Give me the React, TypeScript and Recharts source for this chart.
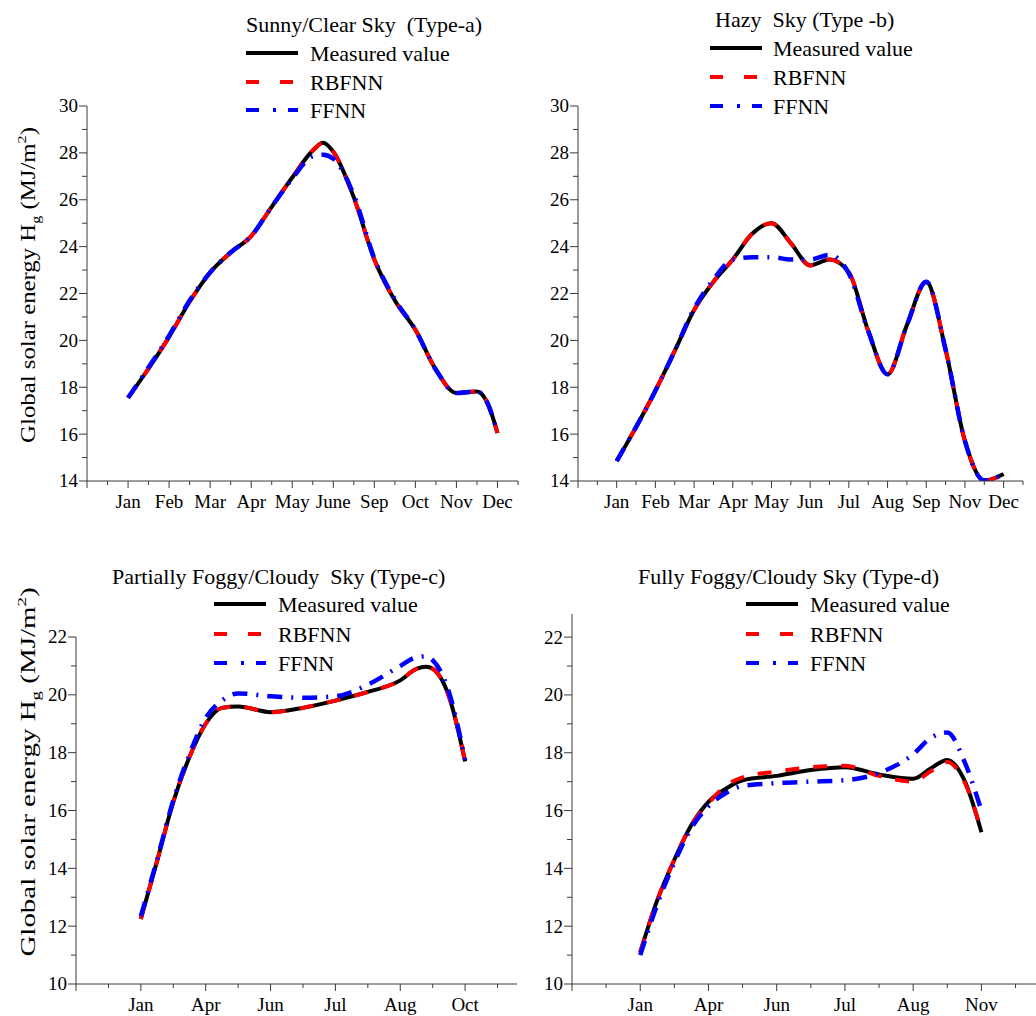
import { Line, LineChart, XAxis, YAxis } from "recharts";

const FONT = '"Liberation Serif", "Times New Roman", serif';
const AXIS = "#3a3a3a";

// Type-a: sunny / clear sky
const monthsA = ["Jan", "Feb", "Mar", "Apr", "May", "June", "Sep", "Oct", "Nov", "Dec"];
const xA = [1, 1.5, 2, 2.5, 3, 3.5, 4, 4.5, 5, 5.5, 5.75, 6, 6.5, 7, 7.5, 8, 8.5, 9, 9.5, 9.75, 10];
const measuredA = [17.55, 18.8, 20.15, 21.65, 22.9, 23.75, 24.45, 25.7, 26.95, 28.1, 28.43, 28.05, 26.1, 23.45, 21.7, 20.45, 18.75, 17.75, 17.82, 17.35, 16.05];
const rbfnnA = [17.55, 18.8, 20.15, 21.65, 22.9, 23.75, 24.45, 25.7, 26.95, 28.1, 28.43, 28.05, 26.1, 23.45, 21.7, 20.45, 18.75, 17.75, 17.82, 17.35, 16.05];
const ffnnA = [17.55, 18.85, 20.2, 21.7, 22.9, 23.75, 24.45, 25.7, 26.9, 27.85, 27.92, 27.75, 26.2, 23.5, 21.75, 20.45, 18.75, 17.75, 17.82, 17.35, 16.05];

// Type-b: hazy sky
const monthsB = ["Jan", "Feb", "Mar", "Apr", "May", "Jun", "Jul", "Aug", "Sep", "Nov", "Dec"];
const xB = [1, 1.5, 2, 2.5, 3, 3.5, 4, 4.5, 5, 5.5, 6, 6.5, 7, 7.5, 8, 8.5, 9, 9.5, 10, 10.5, 11];
const measuredB = [14.85, 16.3, 17.85, 19.55, 21.3, 22.5, 23.45, 24.55, 25.0, 24.15, 23.2, 23.45, 22.9, 20.4, 18.55, 20.65, 22.5, 19.6, 15.7, 14.02, 14.3];
const rbfnnB = [14.85, 16.3, 17.85, 19.55, 21.3, 22.5, 23.45, 24.55, 25.0, 24.15, 23.2, 23.45, 22.9, 20.4, 18.55, 20.65, 22.5, 19.6, 15.7, 14.02, 14.3];
const ffnnB = [14.85, 16.3, 17.85, 19.55, 21.35, 22.6, 23.45, 23.55, 23.55, 23.45, 23.45, 23.65, 22.85, 20.4, 18.55, 20.65, 22.5, 19.6, 15.7, 14.02, 14.3];

// Type-c: partially foggy / cloudy sky
const monthsC = ["Jan", "Apr", "Jun", "Jul", "Aug", "Oct"];
const xC = [1, 1.25, 1.5, 1.75, 2, 2.25, 2.5, 3, 3.5, 4, 4.5, 5, 5.25, 5.4, 5.5, 5.75, 6];
const measuredC = [12.25, 14.25, 16.3, 17.85, 19.0, 19.55, 19.6, 19.4, 19.55, 19.8, 20.1, 20.5, 20.9, 20.97, 20.9, 19.95, 17.7];
const rbfnnC = [12.25, 14.25, 16.3, 17.85, 19.0, 19.55, 19.6, 19.4, 19.55, 19.8, 20.1, 20.5, 20.9, 20.97, 20.9, 19.95, 17.7];
const ffnnC = [12.35, 14.3, 16.35, 17.95, 19.2, 19.8, 20.05, 19.95, 19.9, 19.95, 20.35, 21.0, 21.3, 21.33, 21.2, 20.1, 17.75];

// Type-d: fully foggy / cloudy sky
const monthsD = ["Jan", "Apr", "Jun", "Jul", "Aug", "Nov"];
const xD = [1, 1.25, 1.5, 1.75, 2, 2.25, 2.5, 3, 3.5, 4, 4.5, 5, 5.25, 5.5, 5.75, 6];
const measuredD = [11.1, 12.9, 14.3, 15.5, 16.3, 16.75, 17.05, 17.2, 17.4, 17.5, 17.25, 17.1, 17.45, 17.75, 17.05, 15.25];
const rbfnnD = [11.1, 12.9, 14.3, 15.5, 16.25, 16.85, 17.15, 17.35, 17.5, 17.55, 17.2, 17.0, 17.35, 17.68, 17.0, 15.3];
const ffnnD = [11.0, 12.75, 14.2, 15.4, 16.15, 16.6, 16.85, 16.95, 17.0, 17.05, 17.3, 17.95, 18.5, 18.7, 17.7, 16.0];

const toRows = (xs: number[], m: number[], r: number[], f: number[]) =>
  xs.map((x, i) => ({ x, measured: m[i], rbfnn: r[i], ffnn: f[i] }));

const halfSteps = (max: number) => {
  const out: number[] = [];
  for (let v = 0; v <= max + 1e-9; v += 0.5) out.push(v);
  return out;
};
const unitSteps = (min: number, max: number) => {
  const out: number[] = [];
  for (let v = min; v <= max; v += 1) out.push(v);
  return out;
};

const makeXTick = (labels: string[]) => (props: any) => {
  const { x, y, payload } = props;
  const v = payload.value as number;
  const major = Number.isInteger(v);
  const label = major && v >= 1 ? labels[v - 1] : undefined;
  return (
    <g>
      <line x1={x} x2={x} y1={y} y2={y + (major ? 7 : 4)} stroke={AXIS} />
      {label && (
        <text x={x} y={y + 27} textAnchor="middle" fontSize={19} fontFamily={FONT} fill="#000">
          {label}
        </text>
      )}
    </g>
  );
};

const YTick = (props: any) => {
  const { x, y, payload } = props;
  const major = payload.value % 2 === 0;
  return (
    <g>
      <line x1={x} x2={x - (major ? 8 : 5)} y1={y} y2={y} stroke={AXIS} />
      {major && (
        <text x={x - 9} y={y} dy="0.34em" textAnchor="end" fontSize={19} fontFamily={FONT} fill="#000">
          {payload.value}
        </text>
      )}
    </g>
  );
};

const YTitle = ({ cx, cy, stretch }: { cx: number; cy: number; stretch: number }) => (
  <text
    transform={`translate(${cx},${cy}) rotate(-90) scale(${stretch},1)`}
    textAnchor="middle"
    fontFamily={FONT}
    fontSize={20}
    fill="#000"
  >
    Global solar energy H
    <tspan fontSize={13} dy={5}>g</tspan>
    <tspan dy={-5}> (MJ/m</tspan>
    <tspan fontSize={13} dy={-9}>2</tspan>
    <tspan dy={9}>)</tspan>
  </text>
);

interface PanelProps {
  left: number;
  top: number;
  width: number;
  height: number;
  margin: { top: number; right: number; bottom: number; left: number };
  yWidth: number;
  xHeight: number;
  xMax: number;
  yDomain: [number, number];
  yTicks: number[];
  labels: string[];
  rows: { x: number; measured: number; rbfnn: number; ffnn: number }[];
  yTitle?: { cx: number; cy: number; stretch: number };
}

function Panel(p: PanelProps) {
  return (
    <div style={{ position: "absolute", left: p.left, top: p.top }}>
      <LineChart width={p.width} height={p.height} data={p.rows} margin={p.margin}>
        <XAxis
          dataKey="x"
          type="number"
          domain={[0, p.xMax]}
          ticks={halfSteps(p.xMax)}
          interval={0}
          height={p.xHeight}
          tickSize={0}
          tickMargin={0}
          tickLine={false}
          axisLine={{ stroke: AXIS }}
          tick={makeXTick(p.labels)}
          allowDataOverflow
        />
        <YAxis
          type="number"
          domain={p.yDomain}
          ticks={p.yTicks}
          interval={0}
          width={p.yWidth}
          tickSize={0}
          tickMargin={0}
          tickLine={false}
          axisLine={{ stroke: AXIS }}
          tick={<YTick />}
          allowDataOverflow
          label={p.yTitle ? { content: () => <YTitle {...p.yTitle!} /> } : undefined}
        />
        <Line
          type="monotone"
          dataKey="measured"
          stroke="#000000"
          strokeWidth={4}
          dot={false}
          isAnimationActive={false}
        />
        <Line
          type="monotone"
          dataKey="rbfnn"
          stroke="#ff0000"
          strokeWidth={4}
          strokeDasharray="14 14"
          dot={false}
          isAnimationActive={false}
        />
        <Line
          type="monotone"
          dataKey="ffnn"
          stroke="#0000ff"
          strokeWidth={4.5}
          strokeDasharray="15 9 2 9"
          dot={false}
          isAnimationActive={false}
        />
      </LineChart>
    </div>
  );
}

const LegendBlock = ({
  title,
  titleX,
  titleY,
  lineX,
  textX,
  rowsY,
}: {
  title: string;
  titleX: number;
  titleY: number;
  lineX: number;
  textX: number;
  rowsY: number[];
}) => {
  const entries = [
    { name: "Measured value", color: "#000000", dash: undefined as string | undefined },
    { name: "RBFNN", color: "#ff0000", dash: "13 21" },
    { name: "FFNN", color: "#0000ff", dash: "13 14 3 12" },
  ];
  return (
    <g fontFamily={FONT} fontSize={22} fill="#000">
      <text x={titleX} y={titleY} style={{ whiteSpace: "pre" }}>
        {title}
      </text>
      {entries.map((e, i) => (
        <g key={e.name}>
          <line
            x1={lineX}
            x2={lineX + 52}
            y1={rowsY[i]}
            y2={rowsY[i]}
            stroke={e.color}
            strokeWidth={4}
            strokeDasharray={e.dash}
          />
          <text x={textX} y={rowsY[i] + 8}>
            {e.name}
          </text>
        </g>
      ))}
    </g>
  );
};

export default function App() {
  return (
    <div style={{ position: "absolute", left: 0, top: 0, width: 1036, height: 1016, background: "#fff" }}>
      <Panel
        left={0}
        top={0}
        width={525}
        height={530}
        margin={{ top: 106, right: 7, bottom: 9, left: 27 }}
        yWidth={60}
        xHeight={40}
        xMax={10.5}
        yDomain={[14, 30]}
        yTicks={unitSteps(14, 30)}
        labels={monthsA}
        rows={toRows(xA, measuredA, rbfnnA, ffnnA)}
        yTitle={{ cx: 35, cy: 285, stretch: 1.24 }}
      />
      <Panel
        left={520}
        top={0}
        width={516}
        height={530}
        margin={{ top: 106, right: 13, bottom: 9, left: 8 }}
        yWidth={50}
        xHeight={40}
        xMax={11.5}
        yDomain={[14, 30]}
        yTicks={unitSteps(14, 30)}
        labels={monthsB}
        rows={toRows(xB, measuredB, rbfnnB, ffnnB)}
      />
      <Panel
        left={0}
        top={530}
        width={525}
        height={486}
        margin={{ top: 107, right: 8, bottom: 7, left: 16 }}
        yWidth={60}
        xHeight={25}
        xMax={6.8}
        yDomain={[10, 22]}
        yTicks={unitSteps(10, 22)}
        labels={monthsC}
        rows={toRows(xC, measuredC, rbfnnC, ffnnC)}
        yTitle={{ cx: 35, cy: 242, stretch: 1.45 }}
      />
      <Panel
        left={520}
        top={530}
        width={516}
        height={486}
        margin={{ top: 84, right: 0, bottom: 7, left: 7 }}
        yWidth={45}
        xHeight={25}
        xMax={6.8}
        yDomain={[10, 22.8]}
        yTicks={unitSteps(10, 22)}
        labels={monthsD}
        rows={toRows(xD, measuredD, rbfnnD, ffnnD)}
      />
      <svg
        width={1036}
        height={1016}
        style={{ position: "absolute", left: 0, top: 0, pointerEvents: "none" }}
      >
        <LegendBlock title="Sunny/Clear Sky  (Type-a)" titleX={246} titleY={32} lineX={246} textX={310} rowsY={[53, 82, 110]} />
        <LegendBlock title="Hazy  Sky (Type -b)" titleX={715} titleY={27} lineX={710} textX={773} rowsY={[48, 77, 106]} />
        <LegendBlock title="Partially Foggy/Cloudy  Sky (Type-c)" titleX={112} titleY={584} lineX={214} textX={278} rowsY={[604, 634, 663]} />
        <LegendBlock title="Fully Foggy/Cloudy Sky (Type-d)" titleX={638} titleY={584} lineX={746} textX={810} rowsY={[604, 634, 663]} />
      </svg>
    </div>
  );
}
